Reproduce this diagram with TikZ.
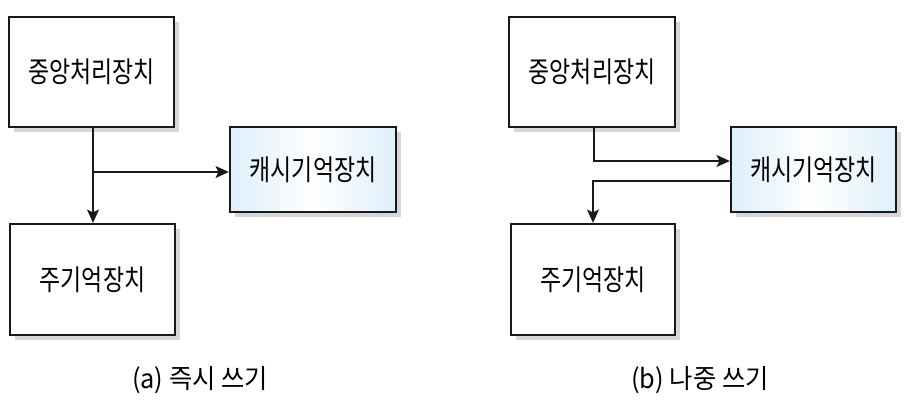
\documentclass[tikz,border=0pt]{standalone}
\usepackage{fontspec}
\setmainfont{Noto Sans CJK KR}[FakeStretch=0.8]
\newfontfamily\capfont{Noto Sans CJK KR}[FakeStretch=0.95]
\usetikzlibrary{arrows.meta,shadows,calc}

\tikzset{every picture/.style={line width=1.1pt}}
\tikzset{
  unitbox/.style={draw={rgb,255:red,25;green,25;blue,25}, line width=1.7pt, fill=white,
    inner sep=0pt, font=\fontsize{21.5}{25}\selectfont,
    drop shadow={shadow xshift=3.5pt, shadow yshift=-3.5pt, fill=black!16, opacity=1}},
  cachebox/.style={unitbox, shading=axis, left color={rgb,255:red,222;green,239;blue,251},
    right color={rgb,255:red,222;green,239;blue,251}, middle color=white, shading angle=90},
  link/.style={draw={rgb,255:red,25;green,25;blue,25}, -{Stealth[length=10pt,width=9pt,inset=2.2pt]}},
  caption/.style={font=\capfont\fontsize{20}{24}\selectfont, inner sep=0pt}
}

\begin{document}
\begin{tikzpicture}[x=0.75pt,y=0.75pt,yscale=-1,xscale=1]
    \useasboundingbox (0,0) rectangle (913,408);

    % (a) write-through
    \node [unitbox, minimum width=165*0.75pt, minimum height=110*0.75pt] (cpuA) at (91.5,72) {중앙처리장치};
    \node [cachebox, minimum width=166*0.75pt, minimum height=85*0.75pt] (cacheA) at (313,169.5) {캐시기억장치};
    \node [unitbox, minimum width=165*0.75pt, minimum height=111*0.75pt] (memA) at (92.5,279.5) {주기억장치};
    \coordinate (forkA) at ($(cpuA.south |- cacheA.west)+(1.5,2.5)$);

    \draw [link] ($(cpuA.south)+(1.5,0)$) -- ($(memA.north)+(0.5,0)$);
    \draw [link] (forkA) -- ($(cacheA.west)+(0,2.5)$);

    % (b) write-back
    \node [unitbox, minimum width=166*0.75pt, minimum height=110*0.75pt] (cpuB) at (592,72) {중앙처리장치};
    \node [cachebox, minimum width=165*0.75pt, minimum height=85*0.75pt] (cacheB) at (813.5,169.5) {캐시기억장치};
    \node [unitbox, minimum width=164*0.75pt, minimum height=111*0.75pt] (memB) at (593,279.5) {주기억장치};
    \coordinate (inB) at ($(cacheB.west)+(0,-8.5)$);
    \coordinate (outB) at ($(cacheB.west)+(0,11.5)$);

    \draw [link] ($(cpuB.south)+(2,0)$) |- (inB);
    \draw [link] (outB) -| (memB.north);

    % Text Node
    \node [caption] (capA) at (200,380) {(a) 즉시 쓰기};
    % Text Node
    \node [caption] (capB) at (700,380) {(b) 나중 쓰기};

\end{tikzpicture}
\end{document}
